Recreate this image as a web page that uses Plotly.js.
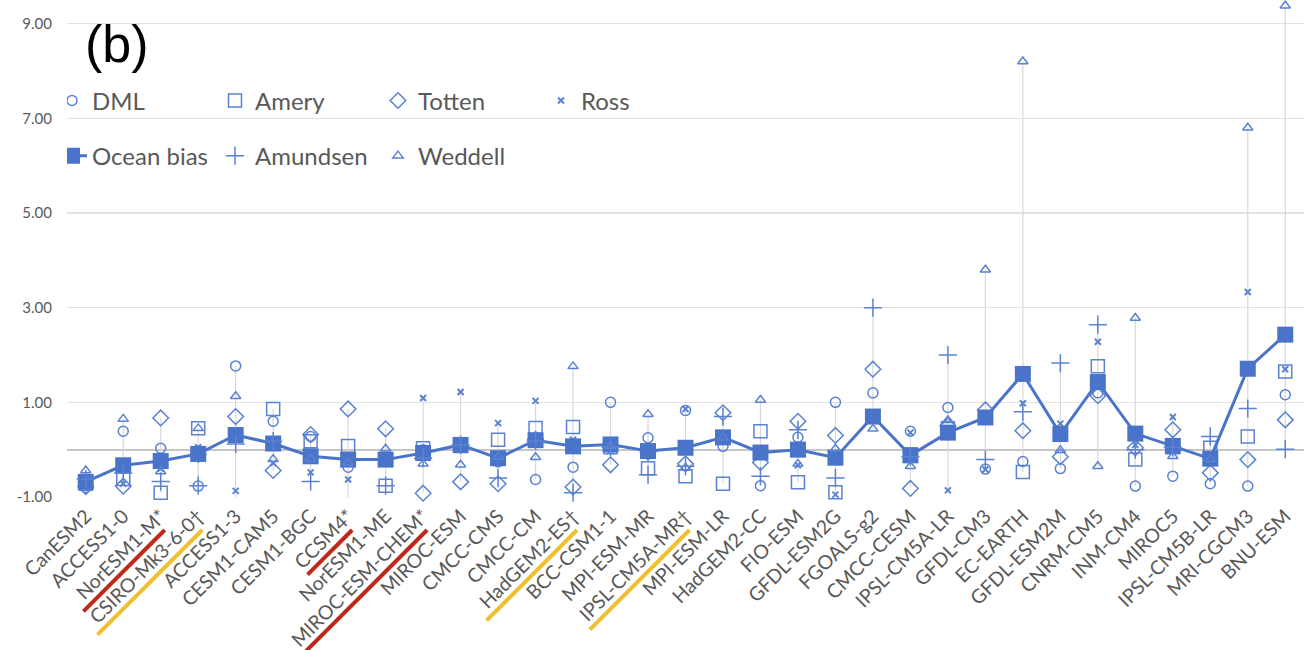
<!DOCTYPE html>
<html>
<head>
<meta charset="utf-8">
<script src="https://cdn.plot.ly/plotly-3.0.1.min.js"></script>
<style>
html,body{margin:0;padding:0;background:#fff;}
#chart{width:1309px;height:650px;}
</style>
</head>
<body>
<div id="chart"></div>
<script>
const categories = ["CanESM2","ACCESS1-0","NorESM1-M*","CSIRO-Mk3-6-0†","ACCESS1-3","CESM1-CAM5","CESM1-BGC","CCSM4*","NorESM1-ME","MIROC-ESM-CHEM*","MIROC-ESM","CMCC-CMS","CMCC-CM","HadGEM2-ES†","BCC-CSM1-1","MPI-ESM-MR","IPSL-CM5A-MR†","MPI-ESM-LR","HadGEM2-CC","FIO-ESM","GFDL-ESM2G","FGOALS-g2","CMCC-CESM","IPSL-CM5A-LR","GFDL-CM3","EC-EARTH","GFDL-ESM2M","CNRM-CM5","INM-CM4","MIROC5","IPSL-CM5B-LR","MRI-CGCM3","BNU-ESM"];

const DML      = [-0.80, 0.39, 0.03,-0.77, 1.77, 0.60, 0.28,-0.37,-0.18, 0.00, 0.12,-0.26,-0.63,-0.37, 1.00, 0.25, 0.83, 0.07,-0.76, 0.26, 1.00, 1.20, 0.39, 0.89,-0.41,-0.25,-0.40, 1.20,-0.77,-0.56,-0.72,-0.77, 1.16];
const Amery    = [-0.72,-0.62,-0.91, 0.45,-1.02, 0.86, 0.18, 0.08,-0.76, 0.03, 0.08, 0.21, 0.46, 0.48, 0.05,-0.39,-0.56,-0.72, 0.39,-0.69,-0.90, 0.70,-0.10, 0.45, 0.68,-0.47, 0.35, 1.76,-0.21, 0.05, 0.04, 0.28, 1.65];
const Totten   = [-0.78,-0.77, 0.67,-0.10, 0.70,-0.44, 0.32, 0.86, 0.44,-0.92,-0.68,-0.72, 0.22,-0.79,-0.32,-0.05,-0.30, 0.78,-0.27, 0.60, 0.30, 1.70,-0.82, 0.50, 0.84, 0.40,-0.15, 1.14, 0.04, 0.42,-0.49,-0.21, 0.63];
const Ross     = [-0.70,-0.72,-0.40, 0.05,-0.87,-0.28,-0.48,-0.63,-0.15, 1.09, 1.22, 0.56, 1.03, 0.21, 0.00, 0.00, 0.86, 0.30,-0.05,-0.33,-0.95, 0.75, 0.36,-0.86,-0.42, 0.98, 0.55, 2.28, 0.10, 0.69,-0.15, 3.33, 1.70];
const OceanBias= [-0.68,-0.33,-0.24,-0.09, 0.31, 0.13,-0.14,-0.21,-0.21,-0.07, 0.10,-0.18, 0.20, 0.07, 0.11,-0.03, 0.04, 0.26,-0.06, 0.00,-0.17, 0.70,-0.12, 0.36, 0.68, 1.60, 0.33, 1.43, 0.34, 0.08,-0.19, 1.71, 2.43];
const Amundsen = [-0.62,-0.50,-0.67,-0.76, 0.12, 0.18,-0.67,-1.03,-0.76,-0.18, 0.10,-0.60, 0.18,-0.91, 0.05,-0.53,-0.35, 0.70,-0.56, 0.42,-0.60, 3.00,-0.15, 2.00,-0.21, 0.80, 1.83, 2.64, 0.00, 0.05, 0.28, 0.87, 0.01];
const Weddell  = [-0.44, 0.65,-0.46, 0.45, 1.13,-0.20,-0.20,-0.28, 0.02,-0.30,-0.32,-0.15,-0.16, 1.76, 0.08, 0.75,-0.38, 0.25, 1.05,-0.30, 0.02, 0.44,-0.35, 0.62, 3.80, 8.20,-0.01,-0.35, 2.78,-0.14,-0.20, 6.80, 9.38];

const yTickVals = [-1, 1, 3, 5, 7, 9];
const yTickText = ["-1.00","1.00","3.00","5.00","7.00","9.00"];

// Underlined (highlighted) model names: index, colour, underline length (px)
const underlineIdx    = [2, 3, 7, 9, 13, 16];
const underlineColor  = ["#c0281a","#efc030","#c0281a","#c0281a","#efc030","#efc030"];
const underlineLen    = [115, 148, 63, 175, 128, 141];

const BLUE = "#4a74c9";
const MK = "#5b82d2";
const xs = categories.map((c,i)=>i);

// high-low lines
const allSeries = [DML, Amery, Totten, Ross, OceanBias, Amundsen, Weddell];
const hlX = [], hlY = [];
xs.forEach(i=>{
  const vals = allSeries.map(s=>s[i]);
  hlX.push(i, i, null);
  hlY.push(Math.min(...vals), Math.max(...vals), null);
});

function mtrace(name, y, symbol, size, lw, legend){
  return {type:"scatter", mode:"markers", name:name, x:xs, y:y, cliponaxis:false,
    legend:legend,
    marker:{symbol:symbol, size:size, color:MK, line:{color:MK, width:lw}}};
}

const traces = [
  {type:"scatter", mode:"lines", x:hlX, y:hlY, showlegend:false, hoverinfo:"skip",
   line:{color:"#d9d9d9", width:1.2}},
  mtrace("DML", DML, "circle-open", 10, 1.5, "legend"),
  mtrace("Amery", Amery, "square-open", 13, 1.5, "legend"),
  mtrace("Totten", Totten, "diamond-open", 12, 1.5, "legend"),
  mtrace("Ross", Ross, "x-thin-open", 6, 2, "legend"),
  {type:"scatter", mode:"lines+markers", name:"Ocean bias", x:xs, y:OceanBias, cliponaxis:false,
   legend:"legend2",
   line:{color:BLUE, width:3}, marker:{symbol:"square", size:16, color:BLUE}},
  mtrace("Amundsen", Amundsen, "cross-thin-open", 13, 1.5, "legend2"),
  mtrace("Weddell", Weddell, "triangle-up-open", 9, 1.5, "legend2")
];

const shapes = underlineIdx.map((ci,k)=>({
  type:"line", xref:"x", yref:"paper", xsizemode:"pixel", ysizemode:"pixel",
  xanchor:ci, yanchor:0,
  x0: 4 - underlineLen[k]*0.707, x1: 4,
  y0: -33 - underlineLen[k]*0.707, y1: -33,
  line:{color:underlineColor[k], width:4}
}));

const legendFont = {family:"Lato, 'Open Sans', sans-serif", size:24, color:"#595959"};
const legendCommon = {orientation:"h", x:0, xanchor:"left", yanchor:"middle",
  font:legendFont, bgcolor:"rgba(0,0,0,0)", entrywidth:133, entrywidthmode:"pixels",
  indentation:-15, itemclick:false};

const layout = {
  width:1309, height:650,
  margin:{l:67, r:5, t:0, b:153},
  paper_bgcolor:"#fff", plot_bgcolor:"#fff",
  font:{family:"Lato, 'Open Sans', sans-serif", color:"#595959"},
  xaxis:{
    range:[-0.5, 32.5], tickvals:xs, ticktext:categories, tickangle:-45,
    tickfont:{family:"Lato, 'Open Sans', sans-serif", size:19.5, color:"#595959"},
    showgrid:false, zeroline:false, showline:false, ticks:"", ticklabelstandoff:3
  },
  yaxis:{
    range:[-1, 9.5], tickvals:yTickVals, ticktext:yTickText,
    tickfont:{family:"Lato, 'Open Sans', sans-serif", size:15, color:"#595959"},
    showgrid:true, gridcolor:"#e2e2e2", gridwidth:1.5,
    zeroline:true, zerolinecolor:"#c6c6c6", zerolinewidth:2,
    showline:false, ticks:"", ticklabelstandoff:14
  },
  showlegend:true,
  legend:Object.assign({}, legendCommon, {y:0.797}),
  legend2:Object.assign({}, legendCommon, {y:0.686}),
  annotations:[{text:"(b)", xref:"paper", yref:"paper", x:0.013, y:0.912,
    xanchor:"left", yanchor:"middle", showarrow:false,
    font:{family:"'Liberation Sans', Arial, sans-serif", size:52, color:"#000"}}],
  shapes:shapes
};

Plotly.newPlot("chart", traces, layout, {displayModeBar:false, staticPlot:true});
</script>
</body>
</html>
